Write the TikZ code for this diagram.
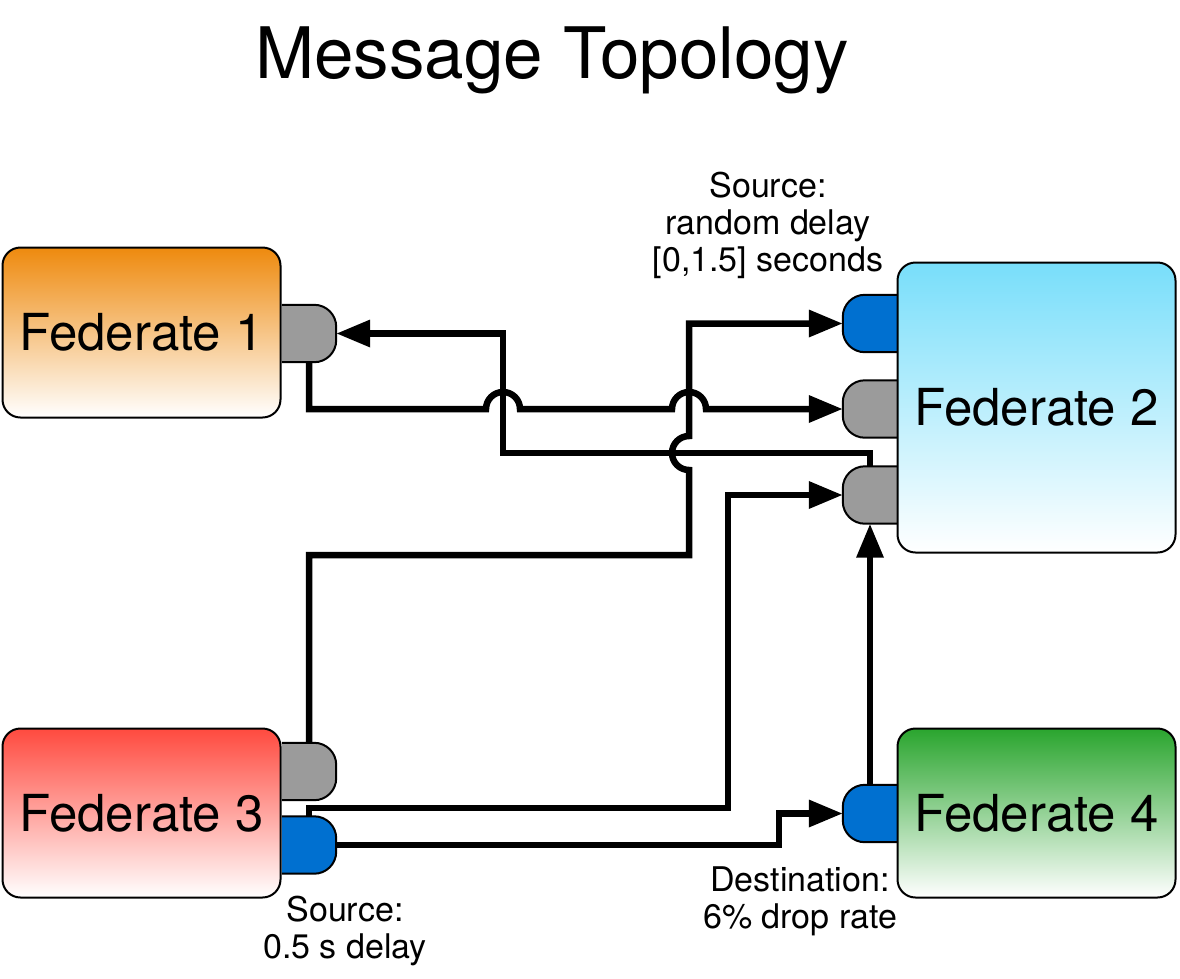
\documentclass[tikz,border=0pt]{standalone}
\usepackage{fontspec}
\setmainfont{TeX Gyre Heros}
\usetikzlibrary{arrows.meta}
\definecolor{fedorange}{RGB}{238,138,14}
\definecolor{fedcyan}{RGB}{120,222,250}
\definecolor{fedred}{RGB}{255,74,63}
\definecolor{fedgreen}{RGB}{42,165,46}
\definecolor{portgray}{RGB}{155,155,155}
\definecolor{portblue}{RGB}{0,112,208}
% port outlines: flat side against the federate box
\newcommand{\portright}[2]{\path[portline,fill=#2] (#1.north west) -- (#1.north east) -- (#1.south east) -- (#1.south west);}
\newcommand{\portleft}[2]{\path[portline,fill=#2] (#1.north east) -- (#1.north west) -- (#1.south west) -- (#1.south east);}
\begin{document}
\begin{tikzpicture}[x=1pt,y=-1pt,
  fed/.style={draw=black,line width=2pt,rounded corners=18pt,bottom color=white,
    inner sep=0pt,minimum width=278pt,font=\fontsize{51}{61}\selectfont},
  port/.style={minimum width=54pt,minimum height=57pt,inner sep=0pt},
  portline/.style={draw=black,line width=2pt,rounded corners=22pt},
  wire/.style={line width=6.5pt},
  tip/.style={-{Triangle[length=34pt,width=26pt]}},
  note/.style={align=center,font=\fontsize{34}{37}\selectfont}]
            % picture in pixel units, y downwards
			\useasboundingbox (0,0) rectangle (1180,978);
			\node[font=\fontsize{71}{85}\selectfont,anchor=base] (title) at (552,78) {Message Topology};
            % ports first, the boxes cover their flat side
			\node[port] (pA) at (309,333.5) {};
			\node[port] (pB1) at (870,323.5) {};
			\node[port] (pB2) at (870,409) {};
			\node[port] (pB3) at (870,495) {};
			\node[port] (pC1) at (309,771.5) {};
			\node[port] (pC2) at (309,845) {};
			\node[port] (pD) at (870,813.5) {};
			\portright{pA}{portgray}
			\portleft{pB1}{portblue}
			\portleft{pB2}{portgray}
			\portleft{pB3}{portgray}
			\portright{pC1}{portgray}
			\portright{pC2}{portblue}
			\portleft{pD}{portblue}
            % federates
			\node[fed,top color=fedorange,minimum height=170pt] (fedA) at (141.5,332.5) {Federate 1};
			\node[fed,top color=fedcyan,minimum height=290pt] (fedB) at (1036.5,407.5) {Federate 2};
			\node[fed,top color=fedred,minimum height=169pt] (fedC) at (141.5,813) {Federate 3};
			\node[fed,top color=fedgreen,minimum height=169pt] (fedD) at (1036.5,813) {Federate 4};
            % connections, hops at x=503 and x=689
			\draw[wire,tip] (pB3.north) |- (503,453) |- (pA.east);
			\draw[wire,tip] (pA.south) |- (486,409) arc[start angle=180,end angle=0,radius=17pt]
              -- (672,409) arc[start angle=180,end angle=0,radius=17pt] -- (pB2.west);
			\draw[wire,tip] (pC1.north) |- (689,555) -- (689,470)
              arc[start angle=270,end angle=90,radius=17pt] |- (pB1.west);
			\draw[wire,tip] (pC2.north) |- (728,808) |- (pB3.west);
			\draw[wire,tip] (pC2.east) -- (779,845) |- (pD.west);
			\draw[wire,tip] (pD.north) -- (pB3.south);
			\node[note] (noteB) at (768,225) {Source:\\random delay\\{[0,1.5]} seconds};
			\node[note] (noteD) at (800,901.5) {Destination:\\6\% drop rate};
			\node[note] (noteC) at (345,931) {Source:\\0.5 s delay};
		\end{tikzpicture}
\end{document}
